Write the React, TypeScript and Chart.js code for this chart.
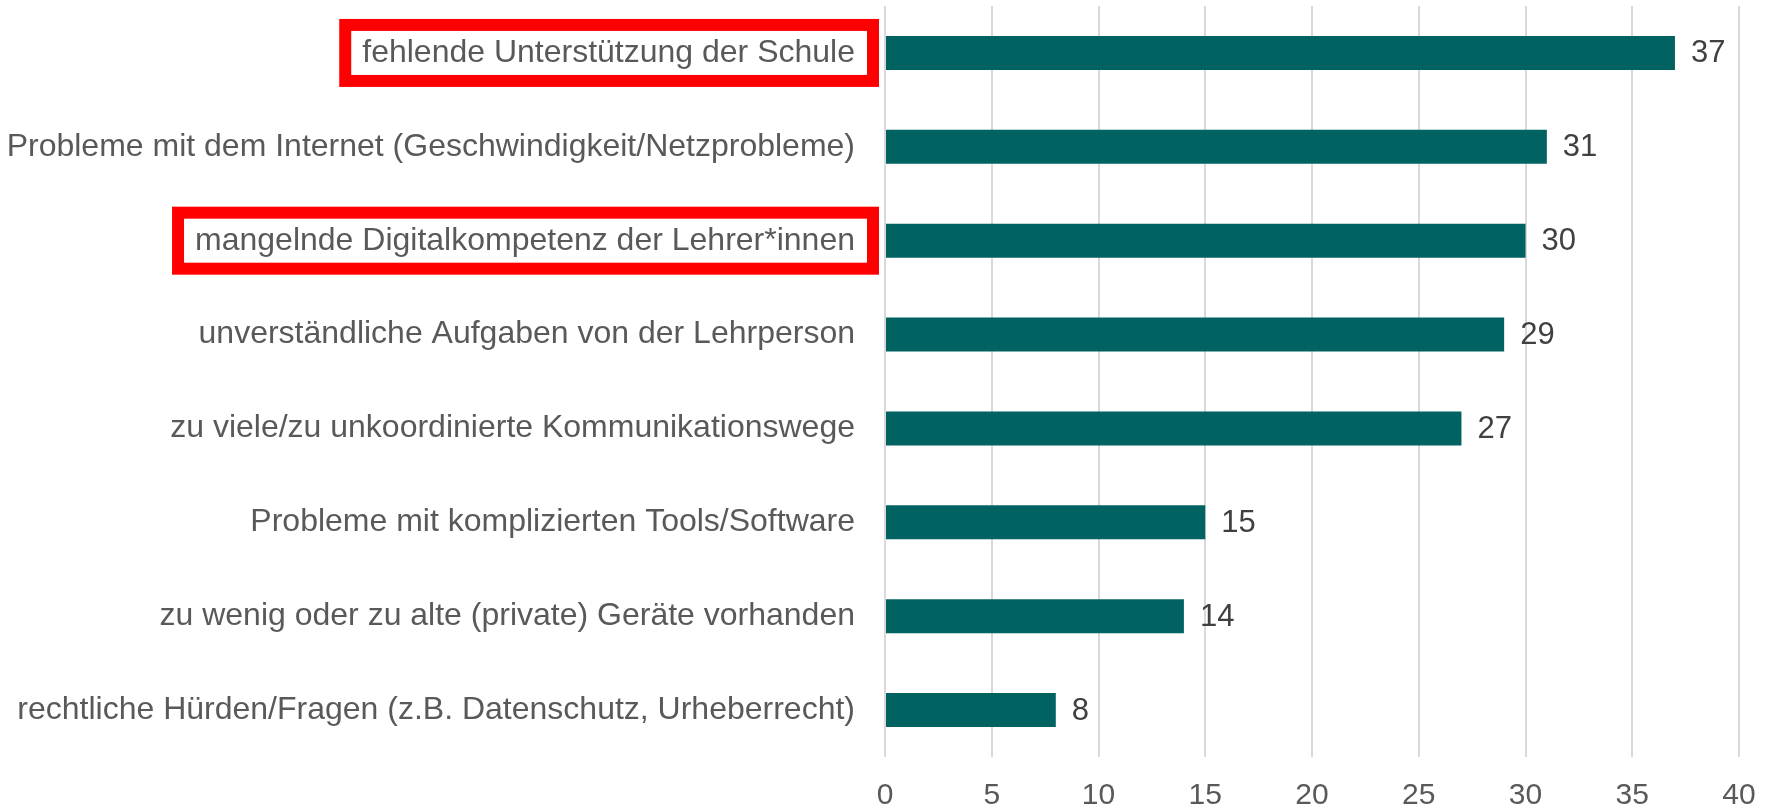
import React, { useEffect, useRef } from "react";
import { Chart, registerables } from "chart.js";

Chart.register(...registerables);

const categories = [
  "fehlende Unterstützung der Schule",
  "Probleme mit dem Internet (Geschwindigkeit/Netzprobleme)",
  "mangelnde Digitalkompetenz der Lehrer*innen",
  "unverständliche Aufgaben von der Lehrperson",
  "zu viele/zu unkoordinierte Kommunikationswege",
  "Probleme mit komplizierten Tools/Software",
  "zu wenig oder zu alte (private) Geräte vorhanden",
  "rechtliche Hürden/Fragen (z.B. Datenschutz, Urheberrecht)",
];
const values = [37, 31, 30, 29, 27, 15, 14, 8];
const highlightedCategories = [
  "fehlende Unterstützung der Schule",
  "mangelnde Digitalkompetenz der Lehrer*innen",
];
const xMin = 0;
const xMax = 40;
const xStep = 5;

const FONT = "'Liberation Sans', Arial, sans-serif";
const LABEL_SIZE = 32;
const TICK_SIZE = 30;
const LABEL_PAD = 30;

const valueLabelPlugin = {
  id: "valueLabels",
  afterDatasetsDraw(chart: any) {
    const ctx = chart.ctx;
    const meta = chart.getDatasetMeta(0);
    ctx.save();
    ctx.font = `31px ${FONT}`;
    ctx.fillStyle = "#404040";
    ctx.textAlign = "left";
    ctx.textBaseline = "middle";
    meta.data.forEach((bar: any, i: number) => {
      ctx.fillText(String(values[i]), bar.x + 16, bar.y + 1);
    });
    ctx.restore();
  },
};

const highlightPlugin = {
  id: "highlightBoxes",
  afterDraw(chart: any) {
    const ctx = chart.ctx;
    const yScale = chart.scales.y;
    ctx.save();
    ctx.font = `${LABEL_SIZE}px ${FONT}`;
    ctx.strokeStyle = "#ff0000";
    ctx.lineWidth = 12;
    categories.forEach((label, i) => {
      if (!highlightedCategories.includes(label)) return;
      const cy = yScale.getPixelForTick(i);
      const w = ctx.measureText(label).width;
      const textRight = yScale.right - LABEL_PAD;
      const textLeft = textRight - w;
      const outerLeft = textLeft - 23;
      const outerRight = textRight + 24;
      const outerTop = cy - 34;
      const outerBottom = cy + 34;
      ctx.strokeRect(outerLeft + 6, outerTop + 6, outerRight - outerLeft - 12, outerBottom - outerTop - 12);
    });
    ctx.restore();
  },
};

export default function App() {
  const canvasRef = useRef<HTMLCanvasElement>(null);

  useEffect(() => {
    document.body.style.margin = "0";
    const canvas = canvasRef.current;
    if (!canvas) return;
    const chart = new Chart(canvas, {
      type: "bar",
      data: {
        labels: categories,
        datasets: [
          {
            data: values,
            backgroundColor: "#016262",
            borderWidth: 0,
            barPercentage: 0.362,
            categoryPercentage: 1,
          },
        ],
      },
      options: {
        indexAxis: "y",
        animation: false,
        responsive: true,
        maintainAspectRatio: false,
        layout: { padding: { top: 6, right: 32, bottom: 0, left: 0 } },
        plugins: {
          legend: { display: false },
          tooltip: { enabled: false },
          title: { display: false },
        },
        scales: {
          x: {
            type: "linear",
            min: xMin,
            max: xMax,
            ticks: {
              stepSize: xStep,
              color: "#595959",
              font: { family: FONT, size: TICK_SIZE },
              padding: 21,
            },
            grid: {
              color: "#d9d9d9",
              lineWidth: 2,
              drawTicks: false,
            },
            border: { display: false },
            afterFit: (scale: any) => {
              scale.height = 52;
              scale.paddingLeft = 0;
              scale.paddingRight = 0;
            },
          },
          y: {
            ticks: {
              color: "#595959",
              font: { family: FONT, size: LABEL_SIZE },
              padding: LABEL_PAD,
              autoSkip: false,
            },
            grid: { display: false, drawTicks: false },
            border: { display: false },
            afterFit: (scale: any) => {
              scale.width = 885;
              scale.paddingTop = 0;
              scale.paddingBottom = 0;
            },
          },
        },
      },
      plugins: [valueLabelPlugin, highlightPlugin],
    });
    return () => chart.destroy();
  }, []);

  return (
    <div style={{ width: 1771, height: 809, position: "relative" }}>
      <canvas ref={canvasRef} />
    </div>
  );
}
